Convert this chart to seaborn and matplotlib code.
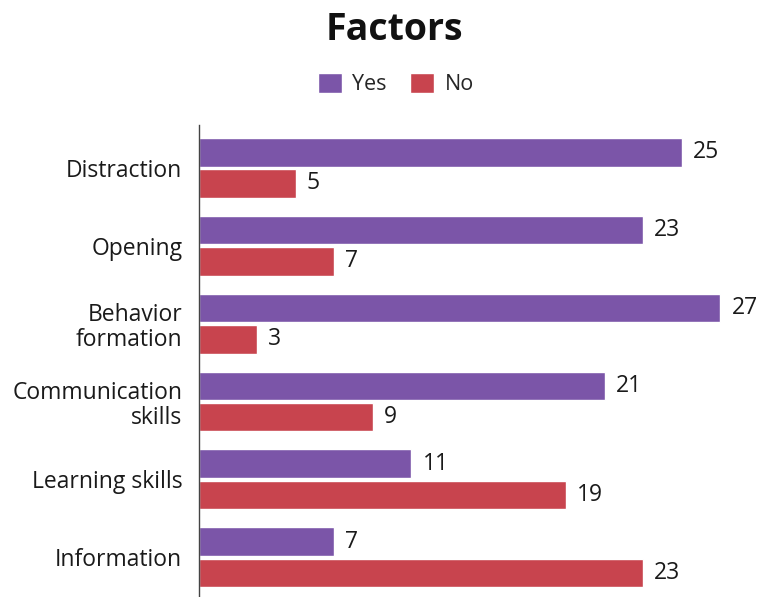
import matplotlib
matplotlib.use("Agg")
import matplotlib.pyplot as plt
import seaborn as sns
import pandas as pd
from matplotlib.patches import Patch

categories = ["Distraction", "Opening", "Behavior\nformation",
              "Communication\nskills", "Learning skills", "Information"]
yes_values = [25, 23, 27, 21, 11, 7]
no_values = [5, 7, 3, 9, 19, 23]
series_names = ["Yes", "No"]
colors = ["#7b55a8", "#c8444e"]

df = pd.DataFrame({
    "factor": categories * 2,
    "count": yes_values + no_values,
    "answer": ["Yes"] * len(categories) + ["No"] * len(categories),
})

sns.set_theme(style="white")
plt.rcParams["font.family"] = ["Open Sans", "DejaVu Sans"]

fig = plt.figure(figsize=(7.59, 5.97), dpi=100)
ax = fig.add_axes([199 / 759, 0.0, 560 / 759, 1 - 125 / 597])

sns.barplot(data=df, y="factor", x="count", hue="answer",
            hue_order=series_names, palette=colors, orient="h",
            width=0.8, gap=0.08, ax=ax, legend=False, saturation=1)

for container in ax.containers:
    ax.bar_label(container, padding=8, fontsize=16.5, color="#1a1a1a")

ax.set_xlim(0, 29)
ax.set_ylim(5.51, -0.55)
ax.set_xlabel("")
ax.set_ylabel("")
ax.set_xticks([])
ax.tick_params(axis="y", length=0, pad=12, labelsize=16.5, labelcolor="#1a1a1a")
for lbl in ax.get_yticklabels():
    lbl.set_horizontalalignment("right")
    lbl.set_multialignment("right")
    lbl.set_linespacing(1.1)

for side in ["top", "right", "bottom"]:
    ax.spines[side].set_visible(False)
ax.spines["left"].set_color("#444444")
ax.spines["left"].set_linewidth(1.0)

fig.text(394 / 759, 1 - 30 / 597, "Factors", ha="center", va="center",
         fontsize=27, fontweight="bold", color="#111111")

handles = [Patch(facecolor=c, label=n) for c, n in zip(colors, series_names)]
fig.legend(handles=handles, loc="center", bbox_to_anchor=(396 / 759, 1 - 84 / 597),
           ncol=2, frameon=False, fontsize=15.5, handlelength=1.1, handleheight=1.1,
           handletextpad=0.5, columnspacing=1.1)

fig.savefig("out.png", dpi=100)
